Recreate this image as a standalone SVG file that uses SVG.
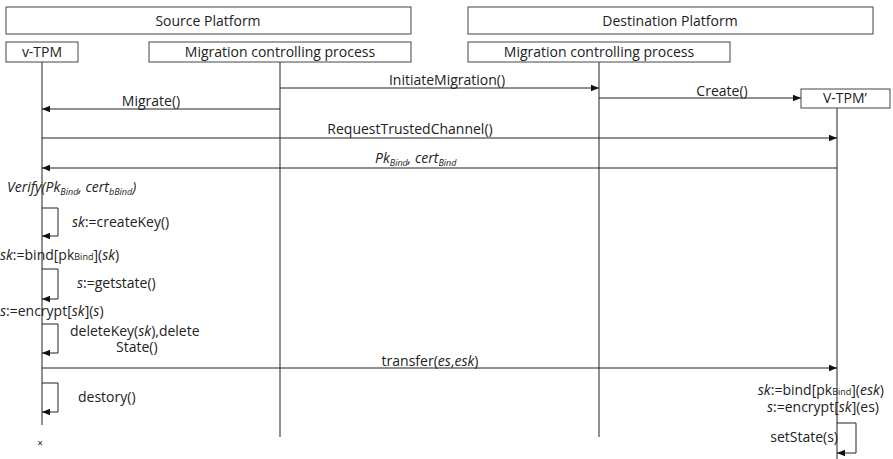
<svg xmlns="http://www.w3.org/2000/svg" width="893" height="459" viewBox="0 0 893 459">
  <style>
    text { font-family: "Open Sans", "Liberation Sans", sans-serif; font-size: 14px; fill: #222; }
    .box { fill: #fff; stroke: #444; stroke-width: 1; }
    .life { stroke: #555; stroke-width: 1.3; fill: none; }
    .msg { stroke: #222; stroke-width: 1; fill: none; }
    .it { font-style: italic; }
    .sub { font-size: 9px; }
  </style>
  <defs>
    <marker id="arr" viewBox="0 0 10 10" refX="10" refY="5" markerWidth="8" markerHeight="8" markerUnits="userSpaceOnUse" orient="auto">
      <path d="M0,1 L10,5 L0,9 z" fill="#111"/>
    </marker>
  </defs>

  <!-- platform headers -->
  <g id="source-platform">
    <rect class="box" x="6" y="7" width="405" height="27"/>
    <text x="208" y="26" text-anchor="middle">Source Platform</text>
  </g>
  <g id="destination-platform">
    <rect class="box" x="468" y="7" width="405" height="27"/>
    <text x="670" y="26" text-anchor="middle">Destination Platform</text>
  </g>

  <!-- participants and lifelines -->
  <g id="vtpm">
    <rect class="box" x="6" y="42" width="72" height="20"/>
    <text x="42" y="57" text-anchor="middle">v-TPM</text>
    <line class="life" x1="42" y1="62" x2="42" y2="425"/>
    <text x="40" y="447" text-anchor="middle" style="font-size:10px">×</text>
  </g>
  <g id="src-mcp">
    <rect class="box" x="149" y="42" width="262" height="20"/>
    <text x="280" y="57" text-anchor="middle">Migration controlling process</text>
    <line class="life" x1="280" y1="62" x2="280" y2="437"/>
  </g>
  <g id="dst-mcp">
    <rect class="box" x="468" y="42" width="262" height="20"/>
    <text x="599" y="57" text-anchor="middle">Migration controlling process</text>
    <line class="life" x1="599" y1="62" x2="599" y2="437"/>
  </g>
  <g id="vtpm-prime">
    <rect class="box" x="801" y="89" width="89" height="19"/>
    <text x="845" y="103" text-anchor="middle">V-TPM’</text>
    <line class="life" x1="837" y1="108" x2="837" y2="459"/>
  </g>

  <!-- messages -->
  <g id="connectors">
    <line class="msg" x1="280" y1="88" x2="599" y2="88" marker-end="url(#arr)"/>
    <line class="msg" x1="599" y1="98" x2="801" y2="98" marker-end="url(#arr)"/>
    <line class="msg" x1="280" y1="109" x2="42" y2="109" marker-end="url(#arr)"/>
    <line class="msg" x1="42" y1="138" x2="837" y2="138" marker-end="url(#arr)"/>
    <line class="msg" x1="837" y1="168" x2="42" y2="168" marker-end="url(#arr)"/>
    <polyline class="msg" points="42,208 58,208 58,236 42,236" marker-end="url(#arr)"/>
    <polyline class="msg" points="42,269 58,269 58,299 42,299" marker-end="url(#arr)"/>
    <polyline class="msg" points="42,324 58,324 58,353 42,353" marker-end="url(#arr)"/>
    <line class="msg" x1="42" y1="368" x2="837" y2="368" marker-end="url(#arr)"/>
    <polyline class="msg" points="42,383 58,383 58,412 42,412" marker-end="url(#arr)"/>
    <polyline class="msg" points="837,423 856,423 856,453 837,453" marker-end="url(#arr)"/>
  </g>

  <!-- message labels -->
  <g id="labels">
    <text x="447" y="85" text-anchor="middle">InitiateMigration()</text>
    <text x="722" y="96" text-anchor="middle">Create()</text>
    <text x="151" y="106" text-anchor="middle">Migrate()</text>
    <text x="410" y="134" text-anchor="middle">RequestTrustedChannel()</text>
    <text x="375" y="163" class="it">Pk<tspan class="sub" dy="3">Bind</tspan><tspan dy="-3">, cert</tspan><tspan class="sub" dy="3">Bind</tspan></text>
    <text x="7" y="192" class="it">Verify(Pk<tspan class="sub" dy="3">Bind</tspan><tspan dy="-3">, cert</tspan><tspan class="sub" dy="3">bBind</tspan><tspan dy="-3">)</tspan></text>
    <text x="72" y="227"><tspan class="it">sk</tspan>:=createKey()</text>
    <text x="-7" y="260"><tspan class="it">esk</tspan>:=bind[pk<tspan class="sub">Bind</tspan>](<tspan class="it">sk</tspan>)</text>
    <text x="77" y="288"><tspan class="it">s</tspan>:=getstate()</text>
    <text x="-7" y="316"><tspan class="it">es</tspan>:=encrypt[<tspan class="it">sk</tspan>](<tspan class="it">s</tspan>)</text>
    <text x="70" y="336">deleteKey(<tspan class="it">sk</tspan>),delete</text>
    <text x="116" y="352">State()</text>
    <text x="430" y="366" text-anchor="middle">transfer(<tspan class="it">es</tspan>,<tspan class="it">esk</tspan>)</text>
    <text x="78" y="402">destory()</text>
    <text x="884" y="395" text-anchor="end"><tspan class="it">sk</tspan>:=bind[pk<tspan class="sub">Bind</tspan>](<tspan class="it">esk</tspan>)</text>
    <text x="879" y="412" text-anchor="end"><tspan class="it">s</tspan>:=encrypt[<tspan class="it">sk</tspan>](es)</text>
    <text x="838" y="442" text-anchor="end">setState(s)</text>
  </g>
</svg>
